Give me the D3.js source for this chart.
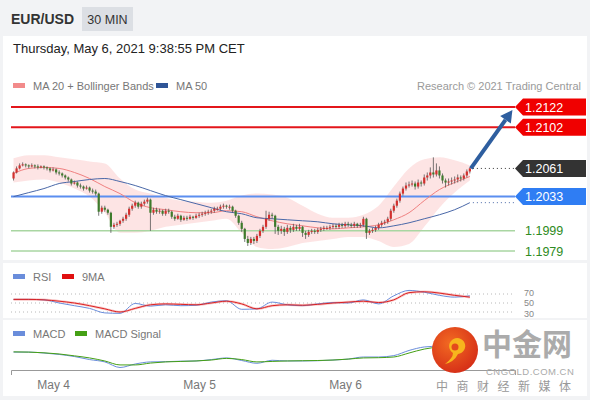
<!DOCTYPE html>
<html><head><meta charset="utf-8">
<script src="https://cdn.jsdelivr.net/npm/d3@7"></script>
<style>
html,body{margin:0;padding:0;background:#f2f3f5;}
svg{display:block;font-family:"Liberation Sans",Arial,sans-serif;}
</style></head><body>
<svg id="chart" width="590" height="400"></svg>
<script>
// ---- DATA ----
const symbol = "EUR/USD";
const timeframe = "30 MIN";
const stamp = "Thursday, May 6, 2021 9:38:55 PM CET";
const credit = "Research \u00a9 2021 Trading Central";
const firstCandleUTC = "2021-05-03T17:30:00Z";
const firstOpen = 1.2051;
const closes = [1.2057,1.2061,1.2064,1.2065,1.2064,1.2063,1.2064,1.2063,1.2062,1.2063,
1.2062,1.2061,1.2059,1.2060,1.2057,1.2056,1.2054,1.2052,1.2050,1.2046,
1.2047,1.2044,1.2043,1.2041,1.2042,1.2039,1.2038,1.2036,1.2018,1.2022,
1.2020,1.2017,1.2003,1.2005,1.2006,1.2009,1.2011,1.2015,1.2021,1.2024,
1.2027,1.2023,1.2026,1.2028,1.2030,1.2017,1.2020,1.2018,1.2019,1.2016,
1.2019,1.2018,1.2013,1.2011,1.2014,1.2010,1.2012,1.2011,1.2013,1.2012,
1.2014,1.2015,1.2016,1.2017,1.2018,1.2019,1.2021,1.2021,1.2023,1.2024,
1.2023,1.2023,1.2019,1.2014,1.2007,1.2001,1.1991,1.1987,1.1991,1.1989,
1.1994,1.1999,1.2003,1.2011,1.2015,1.2014,1.2003,1.1999,1.2001,1.1998,
1.2002,1.2000,1.2003,1.2001,1.2003,1.1997,1.1995,1.1998,1.1999,1.1998,
1.2000,1.2001,1.2002,1.2002,1.2003,1.2004,1.2003,1.2005,1.2004,1.2006,
1.2005,1.2004,1.2006,1.2004,1.2005,1.2011,1.1997,1.1999,1.2000,1.2002,
1.2005,1.2007,1.2008,1.2011,1.2019,1.2024,1.2029,1.2036,1.2041,1.2044,
1.2045,1.2046,1.2043,1.2047,1.2046,1.2052,1.2054,1.2057,1.2055,1.2059,
1.2054,1.2049,1.2047,1.2048,1.2049,1.2050,1.2052,1.2051,1.2054,1.2058,
1.2061];
const highs = [1.2058,1.2063,1.2066,1.2067,1.2066,1.2065,1.2066,1.2065,1.2065,1.2064,
1.2064,1.2063,1.2062,1.2062,1.2061,1.2059,1.2057,1.2055,1.2053,1.2051,
1.2049,1.2048,1.2046,1.2044,1.2044,1.2043,1.2041,1.2040,1.2037,1.2024,
1.2024,1.2021,1.2018,1.2007,1.2008,1.2010,1.2013,1.2017,1.2023,1.2026,
1.2029,1.2028,1.2028,1.2030,1.2032,1.2031,1.2022,1.2022,1.2021,1.2020,
1.2021,1.2021,1.2019,1.2015,1.2016,1.2015,1.2014,1.2014,1.2015,1.2014,
1.2016,1.2017,1.2018,1.2019,1.2020,1.2021,1.2023,1.2023,1.2025,1.2026,
1.2025,1.2025,1.2024,1.2020,1.2015,1.2009,1.2002,1.1994,1.1993,1.1993,
1.1996,1.2001,1.2005,1.2019,1.2018,1.2017,1.2015,1.2005,1.2004,1.2003,
1.2005,1.2004,1.2006,1.2005,1.2006,1.2004,1.1999,1.2000,1.2001,1.2001,
1.2002,1.2003,1.2004,1.2004,1.2005,1.2006,1.2006,1.2007,1.2007,1.2008,
1.2008,1.2007,1.2008,1.2007,1.2007,1.2013,1.2012,1.2001,1.2002,1.2004,
1.2007,1.2009,1.2010,1.2013,1.2021,1.2026,1.2031,1.2038,1.2043,1.2047,
1.2048,1.2049,1.2048,1.2050,1.2049,1.2055,1.2057,1.2062,1.2072,1.2066,
1.2063,1.2056,1.2051,1.2051,1.2052,1.2053,1.2055,1.2054,1.2056,1.2060,
1.2062];
const lows = [1.2049,1.2056,1.2060,1.2063,1.2062,1.2061,1.2062,1.2061,1.2060,1.2061,
1.2060,1.2059,1.2057,1.2058,1.2055,1.2054,1.2052,1.2050,1.2048,1.2044,
1.2045,1.2042,1.2041,1.2039,1.2040,1.2037,1.2036,1.2034,1.2014,1.2016,
1.2018,1.2015,1.1997,1.2001,1.2003,1.2004,1.2007,1.2009,1.2013,1.2019,
1.2022,1.2021,1.2021,1.2024,1.2026,1.1999,1.2015,1.2016,1.2016,1.2014,
1.2014,1.2016,1.2011,1.2009,1.2010,1.2008,1.2009,1.2009,1.2010,1.2010,
1.2011,1.2012,1.2013,1.2014,1.2015,1.2016,1.2017,1.2019,1.2019,1.2021,
1.2021,1.2020,1.2017,1.2012,1.2005,1.1998,1.1988,1.1984,1.1985,1.1986,
1.1987,1.1992,1.1997,1.2001,1.2009,1.2011,1.1996,1.1995,1.1996,1.1994,
1.1996,1.1997,1.1998,1.1999,1.1999,1.1993,1.1991,1.1993,1.1996,1.1996,
1.1996,1.1998,1.1999,1.2000,1.2000,1.2001,1.2001,1.2001,1.2002,1.2002,
1.2003,1.2002,1.2002,1.2002,1.2002,1.2003,1.1991,1.1995,1.1997,1.1998,
1.2000,1.2003,1.2005,1.2006,1.2009,1.2017,1.2022,1.2027,1.2034,1.2039,
1.2042,1.2043,1.2040,1.2041,1.2043,1.2044,1.2049,1.2051,1.2052,1.2053,
1.2051,1.2046,1.2042,1.2044,1.2045,1.2046,1.2047,1.2048,1.2049,1.2052,
1.2056];
// indicators, one reading every 5 candles
const indicatorStep = 5;
const bbUpper = [1.2071,1.2074,1.2074,1.2072,1.2070,1.2068,1.2066,1.2051,1.2040,1.2036,1.2032,1.2029,1.2028,1.2027,1.2029,1.2034,1.2036,1.2035,1.2032,1.2024,1.2016,1.2012,1.2012,1.2015,1.2024,1.2043,1.2061,1.2070,1.2072,1.2069,1.2064];
const bbLower = [1.2047,1.2049,1.2050,1.2047,1.2041,1.2033,1.2017,1.1997,1.1997,1.1999,1.2003,1.2005,1.2007,1.2009,1.2011,1.1997,1.1983,1.1981,1.1983,1.1987,1.1989,1.1991,1.1993,1.1993,1.1989,1.1983,1.1986,1.2003,1.2022,1.2037,1.2049];
const ma20 = [1.2056,1.2061,1.2062,1.2061,1.2057,1.2051,1.2043,1.2036,1.2027,1.2022,1.2020,1.2018,1.2017,1.2017,1.2019,1.2018,1.2013,1.2009,1.2006,1.2004,1.2002,1.2001,1.2002,1.2003,1.2005,1.2010,1.2017,1.2029,1.2040,1.2047,1.2053];
const ma50 = [1.2033,1.2037,1.2041,1.2046,1.2048,1.2050,1.2051,1.2048,1.2044,1.2039,1.2034,1.2030,1.2026,1.2022,1.2018,1.2016,1.2012,1.2011,1.2010,1.2009,1.2008,1.2006,1.2005,1.2004,1.2002,1.2004,1.2007,1.2011,1.2015,1.2020,1.2027];
const rsi = [58,58,57,50,44,38,28,27,49,43,46,44,45,52,55,36,37,52,46,44,48,51,50,57,48,66,78,74,67,63,66];
const rsiMA = [58,58,57,54,50,44,37,30,38,46,48,47,46,50,54,48,37,44,46,45,47,50,52,54,51,57,73,75,72,67,63];
const macd = [0.00021,0.00021,0.00017,0.00011,0.00002,-0.00011,-0.00021,-0.00045,-0.00030,-0.00021,-0.00020,-0.00018,-0.00017,-0.00011,-0.00004,-0.00015,-0.00027,-0.00014,-0.00017,-0.00017,-0.00016,-0.00013,-0.00009,0,0,0.00006,0.00028,0.00043,0.00047,0.00054,0.0006];
const macdSignal = [0.00022,0.00021,0.00018,0.00013,0.00005,-0.00004,-0.00017,-0.00034,-0.00034,-0.00026,-0.00021,-0.00019,-0.00017,-0.00013,-0.00006,-0.00011,-0.00021,-0.00019,-0.00017,-0.00016,-0.00015,-0.00013,-0.00009,-0.00004,-0.00003,0,0.00017,0.00034,0.00043,0.00047,0.00051];
const resistances = [1.2122, 1.2102];
const lastPrice = 1.2061;
const pivot = 1.2033;
const supports = [1.1999, 1.1979];
const rsiLevels = [70, 50, 30];
const dayTicks = ["2021-05-04T00:00:00Z","2021-05-05T00:00:00Z","2021-05-06T00:00:00Z"];
const arrowTarget = {time:"2021-05-07T03:30:00Z", price:1.2119};

// ---- DERIVED ----
const t0 = new Date(firstCandleUTC);
const candles = closes.map((c,i)=>({
  t: d3.utcMinute.offset(t0, 30*i),
  o: i===0 ? firstOpen : closes[i-1], h: highs[i], l: lows[i], c }));
const indTimes = rsi.map((_,k)=>candles[k*indicatorStep].t);

const svg = d3.select("#chart");
const W = 590, H = 400;
const x = d3.scaleUtc()
  .domain([new Date("2021-05-03T17:05:00Z"), new Date("2021-05-07T03:55:00Z")])
  .range([11, 515]);
const y = d3.scaleLinear().domain([1.1979, 1.2122]).range([251, 107]);
const yR = d3.scaleLinear().domain([30, 70]).range([312, 294]);
const yM = d3.scaleLinear().domain([-0.0006, 0.0006]).range([371, 343]);

// backgrounds
svg.append("rect").attr("width",W).attr("height",H).attr("fill","#f2f3f5");
svg.append("rect").attr("x",3).attr("y",36).attr("width",584).attr("height",224).attr("fill","#fff");
svg.append("rect").attr("x",3).attr("y",263).attr("width",584).attr("height",55).attr("fill","#fff");
svg.append("rect").attr("x",3).attr("y",320).attr("width",584).attr("height",76).attr("fill","#fff");

// header
svg.append("text").attr("x",11).attr("y",24).attr("font-size",14).attr("font-weight","bold")
  .attr("fill","#333").text(symbol);
svg.append("rect").attr("x",82).attr("y",7).attr("width",51).attr("height",24).attr("fill","#dcdfe4");
svg.append("text").attr("x",107.5).attr("y",23.5).attr("text-anchor","middle").attr("font-size",12.5)
  .attr("fill","#333").text(timeframe);
svg.append("text").attr("x",13).attr("y",53).attr("font-size",13).attr("fill","#222").text(stamp);

// legends
function legend(items, ly){
  items.forEach(it=>{
    svg.append("rect").attr("x",it.x).attr("y",ly-3).attr("width",12).attr("height",5).attr("fill",it.color);
    svg.append("text").attr("x",it.x+20).attr("y",ly+4).attr("font-size",11).attr("fill","#777").text(it.label);
  });
}
legend([{x:13,color:"#f28b8b",label:"MA 20 + Bollinger Bands"},{x:156,color:"#2f5597",label:"MA 50"}], 86);
svg.append("text").attr("x",581).attr("y",90).attr("text-anchor","end").attr("font-size",11)
  .attr("fill","#9a9a9a").text(credit);
legend([{x:13,color:"#6a8ddb",label:"RSI"},{x:62,color:"#e01010",label:"9MA"}], 277);
legend([{x:13,color:"#6a8ddb",label:"MACD"},{x:75,color:"#45a015",label:"MACD Signal"}], 334);

// Bollinger band
const band = d3.area().x((d,i)=>x(indTimes[i])).y0((d,i)=>y(bbLower[i])).y1(d=>y(d)).curve(d3.curveMonotoneX);
svg.append("path").datum(bbUpper).attr("d",band).attr("fill","#fde1e1").attr("opacity",0.9);

// level lines
const gL = svg.append("g");
resistances.forEach(v=>{
  gL.append("line").attr("x1",11).attr("x2",515).attr("y1",y(v)).attr("y2",y(v))
    .attr("stroke","#e3161b").attr("stroke-width",2);
});
gL.append("line").attr("x1",11).attr("x2",515).attr("y1",y(pivot)).attr("y2",y(pivot))
  .attr("stroke","#5b8ef0").attr("stroke-width",2);
supports.forEach(v=>{
  gL.append("line").attr("x1",11).attr("x2",515).attr("y1",y(v)).attr("y2",y(v))
    .attr("stroke","#a9d6a2").attr("stroke-width",1.5);
});

// MA lines
const lineP = arr => d3.line().x((d,i)=>x(indTimes[i])).y(d=>y(d)).curve(d3.curveMonotoneX)(arr);
svg.append("path").attr("d",lineP(ma20)).attr("fill","none").attr("stroke","#f08080").attr("stroke-width",1);
svg.append("path").attr("d",lineP(ma50)).attr("fill","none").attr("stroke","#4a68a8").attr("stroke-width",1);

// candles
const gC = svg.append("g");
candles.forEach(d=>{
  const cx = x(d.t);
  const up = d.c >= d.o;
  gC.append("line").attr("x1",cx).attr("x2",cx).attr("y1",y(d.h)).attr("y2",y(d.l))
    .attr("stroke","#555").attr("stroke-width",0.8);
  const top = y(Math.max(d.o,d.c)), bot = y(Math.min(d.o,d.c));
  gC.append("rect").attr("x",cx-1.1).attr("width",2.2).attr("y",top).attr("height",Math.max(1,bot-top))
    .attr("fill", up ? "#d3302e" : "#3e7b2b");
});

// dotted extensions
const last = candles[candles.length-1];
svg.append("line").attr("x1",x(last.t)+3).attr("x2",515).attr("y1",y(lastPrice)).attr("y2",y(lastPrice))
  .attr("stroke","#333").attr("stroke-dasharray","1,3");
svg.append("line").attr("x1",x(last.t)+3).attr("x2",515).attr("y1",y(ma50[ma50.length-1])).attr("y2",y(ma50[ma50.length-1]))
  .attr("stroke","#4a68a8").attr("stroke-dasharray","1,3");

// arrow
const ax1 = x(last.t)+1, ay1 = y(lastPrice);
const ax2 = x(new Date(arrowTarget.time)), ay2 = y(arrowTarget.price);
const ang = Math.atan2(ay2-ay1, ax2-ax1);
const hl = 12, hw = 6.5;
const bx = ax2 - hl*Math.cos(ang), by = ay2 - hl*Math.sin(ang);
svg.append("line").attr("x1",ax1).attr("y1",ay1).attr("x2",bx).attr("y2",by)
  .attr("stroke","#2e5e9f").attr("stroke-width",4);
svg.append("path").attr("fill","#2e5e9f").attr("d",
  `M${ax2},${ay2} L${bx + hw*Math.sin(ang)},${by - hw*Math.cos(ang)} L${bx - hw*Math.sin(ang)},${by + hw*Math.cos(ang)} Z`);

// right labels
function tag(v, color){
  const yy = y(v);
  svg.append("path").attr("d",`M515,${yy} L523,${yy-8.5} L586,${yy-8.5} L586,${yy+8.5} L523,${yy+8.5} Z`).attr("fill",color);
  svg.append("text").attr("x",525).attr("y",yy+4.5).attr("font-size",12.5).attr("fill","#fff").text(v.toFixed(4));
}
resistances.forEach(v=>tag(v,"#f00000"));
tag(lastPrice,"#333333");
tag(pivot,"#2f7df3");
supports.forEach(v=>{
  svg.append("text").attr("x",525).attr("y",y(v)+4.5).attr("font-size",12.5).attr("fill","#2e8b22").text(v.toFixed(4));
});

// RSI panel
rsiLevels.forEach(v=>{
  svg.append("line").attr("x1",11).attr("x2",515).attr("y1",yR(v)).attr("y2",yR(v))
    .attr("stroke","#b8b8b8").attr("stroke-dasharray","1,3");
});
const rsiLabelShift = {70:-1.5, 50:0, 30:1.5};
rsiLevels.forEach(v=>{
  svg.append("text").attr("x",524).attr("y",yR(v)+3.3+rsiLabelShift[v]).attr("font-size",9)
    .attr("fill","#888").text(v);
});
const lineR = d3.line().x((d,i)=>x(indTimes[i])).y(d=>yR(d)).curve(d3.curveMonotoneX);
svg.append("path").attr("d",lineR(rsiMA)).attr("fill","none").attr("stroke","#f4a0a0").attr("stroke-width",2.5).attr("opacity",0.6);
svg.append("path").attr("d",lineR(rsi)).attr("fill","none").attr("stroke","#6a8ddb").attr("stroke-width",1);
svg.append("path").attr("d",lineR(rsiMA)).attr("fill","none").attr("stroke","#dd2222").attr("stroke-width",1);

// MACD panel
const lineM = d3.line().x((d,i)=>x(indTimes[i])).y(d=>yM(d)).curve(d3.curveMonotoneX);
svg.append("path").attr("d",lineM(macd)).attr("fill","none").attr("stroke","#6a8ddb").attr("stroke-width",1);
svg.append("path").attr("d",lineM(macdSignal)).attr("fill","none").attr("stroke","#45a015").attr("stroke-width",1);

// x axis
const xa = svg.append("g").attr("transform","translate(0,370)")
  .call(d3.axisBottom(x).tickValues(dayTicks.map(s=>new Date(s))).tickFormat(d3.utcFormat("%b %-d"))
    .tickSizeInner(0).tickSizeOuter(5).tickPadding(10));
xa.select(".domain").attr("stroke","#999");
xa.selectAll("text").attr("font-size",12).attr("fill","#777").attr("font-family","'Liberation Sans',Arial,sans-serif");

// watermark
const defs = svg.append("defs");
const rg = defs.append("radialGradient").attr("id","wm").attr("cx","40%").attr("cy","35%").attr("r","70%");
rg.append("stop").attr("offset","0%").attr("stop-color","#f26a22");
rg.append("stop").attr("offset","100%").attr("stop-color","#d52d17");
svg.append("circle").attr("cx",455).attr("cy",350).attr("r",23).attr("fill","url(#wm)");
svg.append("path").attr("d","M452,340 a8,8 0 1,1 6,14 q-4,8 -13,10 q8,-6 8,-11 a8,8 0 0,1 -1,-13 Z")
  .attr("fill","#f7b51d");
svg.append("circle").attr("cx",455).attr("cy",347).attr("r",3.5).attr("fill","#e44a1c");
svg.append("text").attr("x",482).attr("y",355).attr("font-size",30).attr("font-weight","bold")
  .attr("font-family","'Noto Sans CJK SC',sans-serif").attr("fill","#a3a3a3").attr("opacity",0.9).text("中金网");
svg.append("text").attr("x",486).attr("y",374.5).attr("font-size",9.5).attr("fill","#aaa").attr("letter-spacing",0.5).text("CNGOLD.COM.CN");
svg.append("text").attr("x",436).attr("y",391).attr("font-size",12).attr("fill","#999").attr("letter-spacing",8.5)
  .attr("font-family","'Noto Sans CJK SC',sans-serif").text("中商财经新媒体");
</script>
</body></html>
